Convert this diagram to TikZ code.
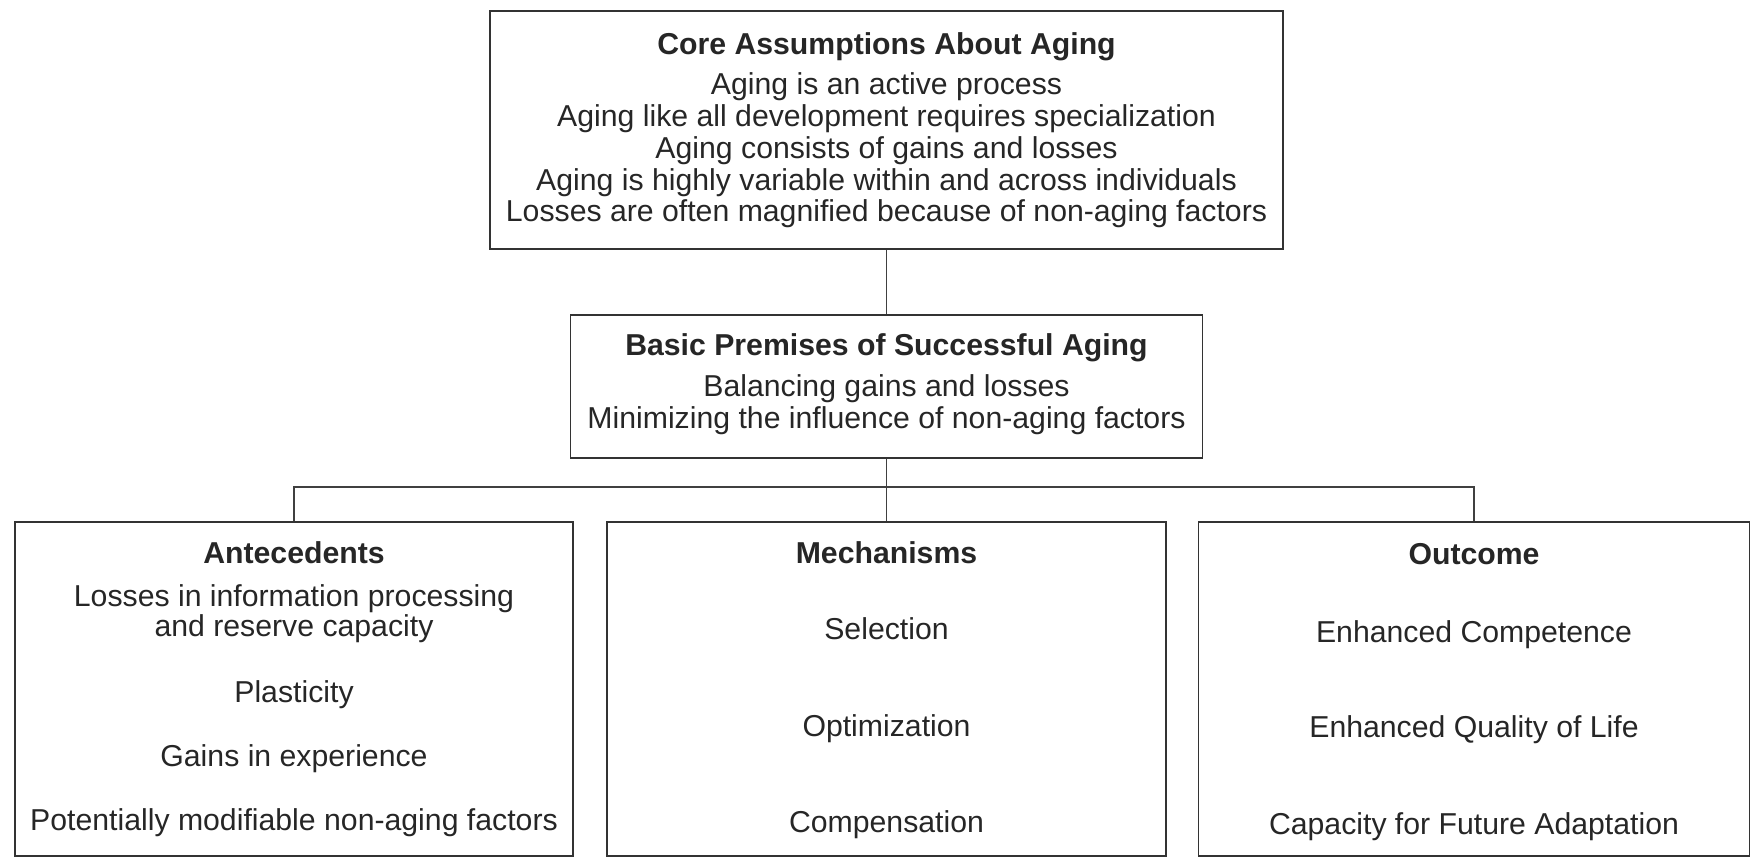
\documentclass[tikz,border=0pt]{standalone}
\usepackage{fontspec}
\setmainfont{Liberation Sans}
\begin{document}
\begin{tikzpicture}[
    box/.style={draw=black!80, line width=1pt, inner sep=0pt},
    head/.style={font=\bfseries\fontsize{17.2}{17.1}\selectfont, text=black!85,
        text height=0.75em, text depth=0.2em, inner sep=0pt},
    item/.style={font=\fontsize{17.2}{17.1}\selectfont, text=black!85,
        text height=0.75em, text depth=0.2em, inner sep=0pt},
    link/.style={draw=black!75, line width=1pt}
]
    \useasboundingbox (0,0) rectangle (35.04,-17.18);

    % Boxes
    \node[box, minimum width=15.86cm, minimum height=4.76cm] (core) at (17.73,-2.60) {};
    \node[box, minimum width=12.64cm, minimum height=2.86cm] (premises) at (17.73,-7.73) {};
    \node[box, minimum width=11.16cm, minimum height=6.68cm] (ante) at (5.88,-13.78) {};
    \node[box, minimum width=11.18cm, minimum height=6.68cm] (mech) at (17.73,-13.78) {};
    \node[box, minimum width=11.02cm, minimum height=6.68cm] (outc) at (29.48,-13.78) {};

    % Core assumptions
    \node[head] (coretitle) at (17.73,-1.00) {Core Assumptions About Aging};
    \node[item] (core1) at (17.73,-1.80) {Aging is an active process};
    \node[item] (core2) at (17.73,-2.44) {Aging like all development requires specialization};
    \node[item] (core3) at (17.73,-3.08) {Aging consists of gains and losses};
    \node[item] (core4) at (17.73,-3.71) {Aging is highly variable within and across individuals};
    \node[item] (core5) at (17.73,-4.34) {Losses are often magnified because of non-aging factors};

    % Premises
    \node[head] (premtitle) at (17.73,-7.02) {Basic Premises of Successful Aging};
    \node[item] (prem1) at (17.73,-7.84) {Balancing gains and losses};
    \node[item] (prem2) at (17.73,-8.48) {Minimizing the influence of non-aging factors};

    % Antecedents
    \node[head] (antetitle) at (5.88,-11.18) {Antecedents};
    \node[item] (ante1a) at (5.88,-12.04) {Losses in information processing};
    \node[item] (ante1b) at (5.88,-12.64) {and reserve capacity};
    \node[item] (ante2) at (5.88,-13.96) {Plasticity};
    \node[item] (ante3) at (5.88,-15.24) {Gains in experience};
    \node[item] (ante4) at (5.88,-16.52) {Potentially modifiable non-aging factors};

    % Mechanisms
    \node[head] (mechtitle) at (17.73,-11.18) {Mechanisms};
    \node[item] (mech1) at (17.73,-12.70) {Selection};
    \node[item] (mech2) at (17.73,-14.64) {Optimization};
    \node[item] (mech3) at (17.73,-16.56) {Compensation};

    % Outcome
    \node[head] (outctitle) at (29.48,-11.20) {Outcome};
    \node[item] (outc1) at (29.48,-12.76) {Enhanced Competence};
    \node[item] (outc2) at (29.48,-14.66) {Enhanced Quality of Life};
    \node[item] (outc3) at (29.48,-16.60) {Capacity for Future Adaptation};

    % Edges
    \draw[link] (core.south) -- (premises.north);
    \draw[link] (premises.south) -- (mech.north);
    \draw[link] (ante.north) -- ++(0,0.68) -| (outc.north);
\end{tikzpicture}
\end{document}
